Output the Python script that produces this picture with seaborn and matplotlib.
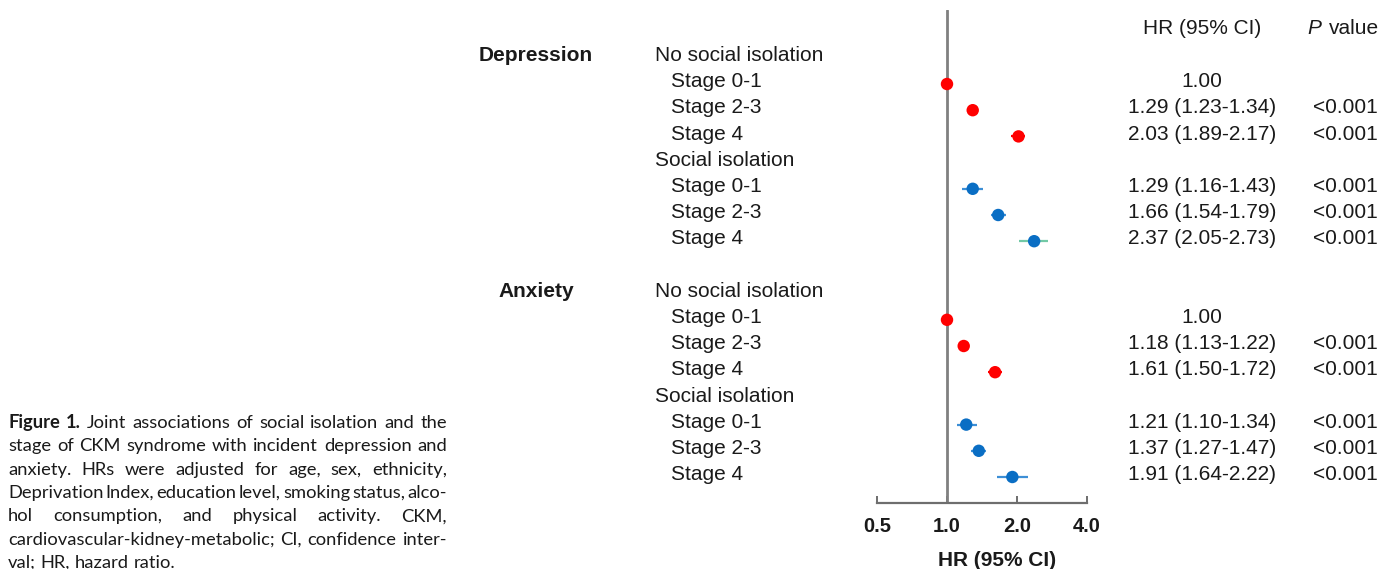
import numpy as np
import pandas as pd
import matplotlib
matplotlib.use("Agg")
import matplotlib.pyplot as plt
import matplotlib.transforms as mtrans
import seaborn as sns

# ---------------- data ----------------
outcomes = ["Depression", "Anxiety"]
groups = ["No social isolation", "Social isolation"]
stages = ["Stage 0-1", "Stage 2-3", "Stage 4"]

dep_hr = [1.00, 1.29, 2.03, 1.29, 1.66, 2.37]
dep_lo = [1.00, 1.23, 1.89, 1.16, 1.54, 2.05]
dep_hi = [1.00, 1.34, 2.17, 1.43, 1.79, 2.73]
dep_p = ["", "<0.001", "<0.001", "<0.001", "<0.001", "<0.001"]

anx_hr = [1.00, 1.18, 1.61, 1.21, 1.37, 1.91]
anx_lo = [1.00, 1.13, 1.50, 1.10, 1.27, 1.64]
anx_hi = [1.00, 1.22, 1.72, 1.34, 1.47, 2.22]
anx_p = ["", "<0.001", "<0.001", "<0.001", "<0.001", "<0.001"]

tick_vals = [0.5, 1.0, 2.0, 4.0]
tick_labels = ["0.5", "1.0", "2.0", "4.0"]

caption_lines = [
    [("Figure", "bold"), ("1.", "bold"), ("Joint", "normal"), ("associations", "normal"),
     ("of", "normal"), ("social", "normal"), ("isolation", "normal"), ("and", "normal"), ("the", "normal")],
    "stage of CKM syndrome with incident depression and",
    "anxiety. HRs were adjusted for age, sex, ethnicity,",
    "Deprivation Index, education level, smoking status, alco-",
    "hol consumption, and physical activity. CKM,",
    "cardiovascular-kidney-metabolic; CI, confidence inter-",
    "val; HR, hazard ratio.",
]

# ---------------- build table ----------------
rows = []
r = 0
for oi, (hrs, los, his, ps) in enumerate([(dep_hr, dep_lo, dep_hi, dep_p),
                                          (anx_hr, anx_lo, anx_hi, anx_p)]):
    k = 0
    for gi, g in enumerate(groups):
        rows.append(dict(row=r, kind="group", label=g, outcome=outcomes[oi] if gi == 0 else ""))
        r += 1
        for s in stages:
            rows.append(dict(row=r, kind="stage", label=s, group=g,
                             hr=hrs[k], lo=los[k], hi=his[k], p=ps[k]))
            r += 1
            k += 1
    r += 1  # blank line between outcomes
df = pd.DataFrame(rows)
est = df[df.kind == "stage"].copy()

# ---------------- figure ----------------
W, H = 1394, 569
fig = plt.figure(figsize=(W / 100, H / 100), dpi=100)
fig.patch.set_facecolor("white")
sns.set_style("white")
plt.rcParams["font.family"] = ["Liberation Sans", "DejaVu Sans"]

def fx(px):
    return px / W

def fy(py):
    return 1 - py / H

row_px0, row_step = 57.8, 26.2
ax_top, ax_bot = 10, 503
ylim_top = (ax_top - row_px0) / row_step
ylim_bot = (ax_bot - row_px0) / row_step
ax = fig.add_axes([fx(877), fy(ax_bot), fx(1087) - fx(877), (ax_bot - ax_top) / H])
ax.set_facecolor("none")

ax.set_xscale("log", base=2)
ax.set_xlim(tick_vals[0], tick_vals[-1])
ax.set_ylim(ylim_bot, ylim_top)

ax.axvline(1.0, color="#808080", lw=2.0, zorder=1)

red = "#FF0000"
blue = "#0A6EC4"
ci_colors = [red, red, red, "#3D8FD6", "#3D8FD6", "#72C9A6",
             red, red, red, "#3D8FD6", "#3D8FD6", "#3D8FD6"]
for (i, rr), c in zip(est.iterrows(), ci_colors):
    ax.plot([rr.lo, rr.hi], [rr.row, rr.row], color=c, lw=1.6, zorder=2,
            solid_capstyle="butt")

sns.scatterplot(data=est, x="hr", y="row", hue="group",
                palette={groups[0]: red, groups[1]: blue},
                s=80, edgecolor="none", legend=False, ax=ax, zorder=3)

for side in ["top", "right", "left"]:
    ax.spines[side].set_visible(False)
ax.spines["bottom"].set_color("#6e6e6e")
ax.spines["bottom"].set_linewidth(1.6)
ax.set_yticks([])
ax.set_ylabel("")
ax.set_xticks(tick_vals)
ax.set_xticklabels(tick_labels, fontsize=14.5, fontweight="bold", color="#1a1a1a")
ax.xaxis.set_minor_locator(matplotlib.ticker.NullLocator())
ax.tick_params(axis="x", direction="in", length=5, width=1.4, color="#6e6e6e", pad=10,
               bottom=True)
ax.set_xlabel("")
fig.text(fx(997), fy(566.5), "HR (95% CI)", ha="center", va="baseline",
         fontsize=15, fontweight="bold", color="#1a1a1a")

# ---------------- left / right text columns ----------------
tr = mtrans.blended_transform_factory(fig.transFigure, ax.transData)
tc = "#1a1a1a"
fs = 15
toff = -0.09
for _, rr in df.iterrows():
    y = rr.row + toff
    if rr.kind == "group":
        ax.text(fx(655), y, rr.label, transform=tr, ha="left", va="center",
                fontsize=fs, color=tc)
        if rr.outcome:
            ax.text(fx(536), y, rr.outcome, transform=tr, ha="center", va="center",
                    fontsize=fs, fontweight="bold", color=tc)
    else:
        ax.text(fx(671), y, rr.label, transform=tr, ha="left", va="center",
                fontsize=fs, color=tc)
        if rr.hr == 1.0 and rr.lo == 1.0:
            hr_txt = f"{rr.hr:.2f}"
        else:
            hr_txt = f"{rr.hr:.2f} ({rr.lo:.2f}-{rr.hi:.2f})"
        ax.text(fx(1202), y, hr_txt, transform=tr, ha="center", va="center",
                fontsize=fs, color=tc)
        if rr.p:
            ax.text(fx(1378), y, rr.p, transform=tr, ha="right", va="center",
                    fontsize=fs, color=tc)

hdr_row = (28 - row_px0) / row_step
ax.text(fx(1202), hdr_row, "HR (95% CI)", transform=tr, ha="center", va="center",
        fontsize=fs, color=tc)
ax.text(fx(1307), hdr_row, "P", transform=tr, ha="left", va="center",
        fontsize=fs, color=tc, style="italic")
ax.text(fx(1379), hdr_row, "value", transform=tr, ha="right", va="center",
        fontsize=fs, color=tc)

# ---------------- caption (justified) ----------------
cap_font = "Lato"
cap_fs = 13.2
left_px, right_px = 8, 447
base0, lead = 428.0, 23.35
renderer = fig.canvas.get_renderer()
m1 = fig.text(0, 0, "a b", fontsize=cap_fs, family=cap_font)
m2 = fig.text(0, 0, "ab", fontsize=cap_fs, family=cap_font)
space_w = m1.get_window_extent(renderer).width - m2.get_window_extent(renderer).width
m1.remove()
m2.remove()
for li, line in enumerate(caption_lines):
    if isinstance(line, str):
        words = [(w, "normal") for w in line.split(" ")]
    else:
        words = line
    y = fy(base0 + li * lead)
    arts = []
    for w, wt in words:
        t = fig.text(0, y, w, ha="left", va="baseline", fontsize=cap_fs,
                     fontweight=wt, family=cap_font, color="#1a1a1a")
        arts.append(t)
    widths = [a.get_window_extent(renderer).width for a in arts]
    last = li == len(caption_lines) - 1
    if last or len(arts) == 1:
        gap = space_w
    else:
        gap = (right_px - left_px - sum(widths)) / (len(arts) - 1)
    x = left_px
    for a, w in zip(arts, widths):
        a.set_x(fx(x))
        x += w + gap

fig.savefig("out.png", dpi=100, facecolor="white")
